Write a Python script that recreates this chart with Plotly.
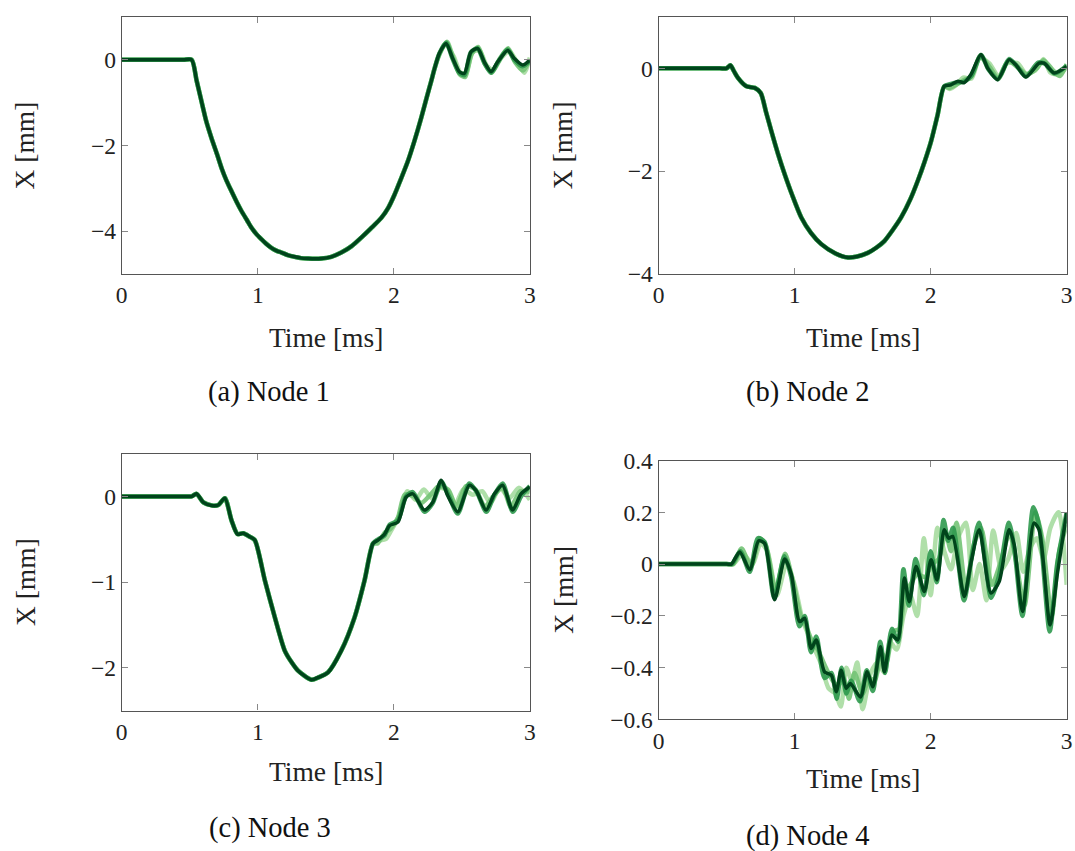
import plotly.graph_objects as go

# ---------------- data ----------------
TIME_TICKS = [0, 1, 2, 3]

# Node 1 : shared early part (all runs coincide)
N1_T_EARLY = [0, 0.45, 0.514, 0.55, 0.587, 0.62, 0.66, 0.7, 0.734, 0.77, 0.807, 0.845, 0.88, 0.92, 0.954,
              0.99, 1.027, 1.06, 1.1, 1.14, 1.174, 1.22, 1.271, 1.32, 1.37, 1.42, 1.467, 1.54, 1.614, 1.69,
              1.761, 1.83, 1.908, 1.96, 2.005, 2.05, 2.103, 2.15, 2.201, 2.24, 2.274, 2.3]
N1_Y_EARLY = [0, 0, 0, -0.48, -0.98, -1.42, -1.83, -2.2, -2.53, -2.82, -3.07, -3.32, -3.53, -3.74, -3.92,
              -4.07, -4.19, -4.29, -4.39, -4.46, -4.5, -4.56, -4.6, -4.63, -4.64, -4.645, -4.64, -4.6, -4.5,
              -4.35, -4.15, -3.94, -3.69, -3.45, -3.15, -2.8, -2.37, -1.91, -1.36, -0.9, -0.51, -0.2]
N1_T_LATE = {
    "r1": [2.33, 2.38, 2.44, 2.49, 2.53, 2.58, 2.63, 2.68, 2.73, 2.79, 2.85, 2.9, 2.96, 3.0],
    "r2": [2.34, 2.39, 2.435, 2.485, 2.525, 2.57, 2.62, 2.67, 2.72, 2.77, 2.84, 2.89, 2.95, 3.0],
    "r3": [2.335, 2.385, 2.43, 2.48, 2.52, 2.565, 2.615, 2.665, 2.715, 2.765, 2.835, 2.885, 2.945, 3.0],
    "r4": [2.335, 2.384, 2.433, 2.482, 2.518, 2.568, 2.617, 2.665, 2.715, 2.763, 2.837, 2.886, 2.947, 3.0],
}
N1_Y_LATE = {
    "r1": [0.1, 0.35, 0.08, -0.3, -0.3, 0.18, 0.22, -0.12, -0.25, 0.05, 0.2, -0.02, -0.3, 0.05],
    "r2": [0.16, 0.42, 0.06, -0.34, -0.4, 0.12, 0.3, -0.1, -0.3, -0.02, 0.27, -0.05, -0.25, 0.0],
    "r3": [0.15, 0.4, 0.04, -0.3, -0.36, 0.17, 0.27, -0.07, -0.3, -0.06, 0.24, 0.0, -0.15, -0.03],
    "r4": [0.15, 0.38, 0.03, -0.28, -0.32, 0.19, 0.26, -0.05, -0.28, -0.05, 0.22, 0.03, -0.12, -0.01],
}

# Node 2
N2_T_EARLY = [0, 0.45, 0.499, 0.528, 0.555, 0.585, 0.646, 0.707, 0.751, 0.79, 0.829, 0.88, 0.927, 0.98,
              1.049, 1.12, 1.196, 1.3, 1.392, 1.46, 1.538, 1.6, 1.66, 1.72, 1.783, 1.85, 1.905, 1.955,
              2.003, 2.05, 2.1]
N2_Y_EARLY = [0, 0, 0, 0.06, -0.06, -0.19, -0.35, -0.38, -0.48, -0.85, -1.22, -1.68, -2.06, -2.45,
              -2.9, -3.2, -3.42, -3.6, -3.68, -3.66, -3.59, -3.49, -3.36, -3.15, -2.9, -2.55, -2.19, -1.82,
              -1.42, -0.92, -0.35]
N2_T_LATE = {
    "r1": [2.14, 2.19, 2.24, 2.3, 2.36, 2.43, 2.5, 2.56, 2.64, 2.7, 2.77, 2.83, 2.88, 2.94, 3.0],
    "r2": [2.14, 2.2, 2.25, 2.3, 2.365, 2.43, 2.5, 2.57, 2.64, 2.71, 2.78, 2.83, 2.9, 2.95, 3.0],
    "r3": [2.15, 2.2, 2.245, 2.3, 2.37, 2.425, 2.495, 2.575, 2.63, 2.7, 2.79, 2.84, 2.91, 3.0],
    "r4": [2.149, 2.2, 2.245, 2.296, 2.37, 2.42, 2.492, 2.577, 2.626, 2.7, 2.797, 2.834, 2.908, 3.0],
}
N2_Y_LATE = {
    "r1": [-0.4, -0.32, -0.18, -0.2, 0.2, 0.1, -0.16, 0.1, 0.1, -0.1, -0.04, 0.18, -0.08, -0.12, 0.02],
    "r2": [-0.38, -0.3, -0.22, -0.16, 0.24, 0.04, -0.2, 0.14, 0.02, -0.12, 0.0, 0.16, -0.04, -0.15, 0.08],
    "r3": [-0.3, -0.27, -0.26, -0.14, 0.26, -0.02, -0.21, 0.18, 0.06, -0.16, 0.11, 0.09, -0.1, 0.05],
    "r4": [-0.32, -0.25, -0.28, -0.12, 0.27, 0.0, -0.22, 0.17, 0.07, -0.17, 0.1, 0.1, -0.09, 0.04],
}

# Node 3
N3_T_EARLY = [0, 0.47, 0.514, 0.55, 0.6, 0.66, 0.71, 0.758, 0.807, 0.851, 0.893, 0.94, 0.978, 1.052,
              1.125, 1.198, 1.25, 1.296, 1.394, 1.45, 1.516, 1.614, 1.712, 1.785, 1.847]
N3_Y_EARLY = [0, 0, 0, 0.03, -0.07, -0.105, -0.1, -0.02, -0.28, -0.44, -0.43, -0.47, -0.51, -0.98,
              -1.41, -1.8, -1.94, -2.035, -2.14, -2.11, -2.055, -1.8, -1.41, -0.98, -0.55]
N3_T_LATE = {
    "r1": [1.88, 1.94, 1.98, 2.04, 2.1, 2.16, 2.22, 2.28, 2.34, 2.4, 2.45, 2.51, 2.58, 2.65, 2.71, 2.78,
           2.85, 2.92, 3.0],
    "r2": [1.88, 1.935, 1.975, 2.03, 2.08, 2.15, 2.2, 2.27, 2.33, 2.4, 2.46, 2.53, 2.6, 2.67, 2.73, 2.8,
           2.86, 2.93, 3.0],
    "r3": [1.885, 1.93, 1.97, 2.03, 2.09, 2.14, 2.225, 2.285, 2.35, 2.4, 2.47, 2.555, 2.61, 2.68, 2.74,
           2.8, 2.875, 2.935, 3.0],
    "r4": [1.883, 1.932, 1.969, 2.03, 2.09, 2.14, 2.225, 2.286, 2.348, 2.396, 2.47, 2.555, 2.604, 2.678,
           2.74, 2.8, 2.873, 2.935, 3.0],
}
N3_Y_LATE = {
    "r1": [-0.52, -0.5, -0.4, -0.22, 0.06, -0.04, 0.08, -0.02, 0.1, 0.06, -0.1, 0.08, 0.02, 0.06, -0.08,
           0.1, -0.02, 0.1, -0.04],
    "r2": [-0.55, -0.42, -0.38, -0.25, 0.02, 0.0, -0.08, 0.02, 0.12, 0.08, -0.12, 0.12, 0.08, -0.12, 0.0,
           0.1, -0.12, 0.06, 0.05],
    "r3": [-0.5, -0.46, -0.33, -0.28, 0.0, 0.05, -0.18, -0.08, 0.17, 0.02, -0.2, 0.15, 0.05, -0.18, 0.02,
           0.15, -0.18, 0.0, 0.12],
    "r4": [-0.51, -0.44, -0.34, -0.3, -0.01, 0.03, -0.16, -0.07, 0.19, 0.01, -0.18, 0.13, 0.07, -0.16,
           0.03, 0.13, -0.16, 0.03, 0.11],
}

# Node 4 (runs differ throughout)
N4_T = {
    "r1": [0, 0.5, 0.55, 0.62, 0.69, 0.75, 0.8, 0.87, 0.94, 1.0, 1.06, 1.1, 1.14, 1.19, 1.25, 1.3, 1.34,
           1.38, 1.42, 1.46, 1.5, 1.56, 1.61, 1.66, 1.7, 1.75, 1.8, 1.85, 1.9, 1.95, 2.0, 2.05, 2.1, 2.15,
           2.2, 2.26, 2.31, 2.36, 2.41, 2.46, 2.52, 2.57, 2.63, 2.68, 2.73, 2.78, 2.83, 2.88, 2.94, 3.0],
    "r2": [0, 0.5, 0.55, 0.61, 0.68, 0.745, 0.79, 0.86, 0.93, 0.985, 1.045, 1.085, 1.13, 1.17, 1.23, 1.28,
           1.32, 1.36, 1.4, 1.44, 1.5, 1.55, 1.59, 1.64, 1.675, 1.725, 1.77, 1.815, 1.85, 1.9, 1.96, 2.01,
           2.06, 2.11, 2.15, 2.19, 2.26, 2.31, 2.37, 2.45, 2.51, 2.58, 2.625, 2.69, 2.77, 2.82, 2.89, 2.945,
           3.0],
    "r3": [0, 0.5, 0.54, 0.6, 0.67, 0.73, 0.78, 0.85, 0.925, 0.975, 1.035, 1.075, 1.12, 1.16, 1.22, 1.27,
           1.31, 1.345, 1.38, 1.415, 1.48, 1.53, 1.575, 1.63, 1.665, 1.715, 1.76, 1.8, 1.84, 1.89, 1.95,
           2.0, 2.045, 2.095, 2.13, 2.165, 2.245, 2.3, 2.355, 2.445, 2.5, 2.575, 2.615, 2.675, 2.755, 2.8,
           2.875, 2.93, 3.0],
    "r4": [0, 0.5, 0.535, 0.597, 0.67, 0.736, 0.78, 0.853, 0.927, 0.976, 1.037, 1.074, 1.122, 1.159, 1.22,
           1.27, 1.306, 1.342, 1.379, 1.41, 1.484, 1.533, 1.575, 1.631, 1.66, 1.714, 1.758, 1.807, 1.843,
           1.893, 1.954, 2.003, 2.047, 2.1, 2.132, 2.162, 2.247, 2.296, 2.357, 2.443, 2.504, 2.577, 2.614,
           2.675, 2.76, 2.797, 2.878, 2.932, 3.0],
}
N4_Y = {
    "r1": [0, 0, 0, 0.04, 0.0, 0.08, 0.05, -0.12, 0.0, -0.08, -0.22, -0.27, -0.32, -0.38, -0.48, -0.5,
           -0.55, -0.4, -0.45, -0.38, -0.56, -0.42, -0.38, -0.42, -0.3, -0.33, -0.2, -0.12, -0.2, 0.1,
           -0.12, 0.14, 0.05, -0.02, 0.1, 0.16, -0.1, 0.0, -0.14, 0.13, -0.02, 0.02, 0.12, -0.03, 0.06,
           0.1, 0.02, 0.14, 0.2, -0.08],
    "r2": [0, 0, 0, 0.06, -0.01, 0.1, 0.07, -0.1, 0.04, -0.06, -0.2, -0.24, -0.3, -0.33, -0.4, -0.45,
           -0.47, -0.44, -0.52, -0.42, -0.5, -0.44, -0.45, -0.34, -0.38, -0.26, -0.25, -0.1, -0.08, -0.04,
           -0.05, 0.0, 0.02, 0.12, 0.05, 0.16, -0.1, 0.06, 0.14, -0.08, 0.0, 0.12, 0.02, -0.16, 0.2, 0.1,
           -0.2, 0.05, 0.15],
    "r3": [0, 0, 0, 0.05, -0.03, 0.1, 0.085, -0.13, 0.03, -0.05, -0.24, -0.2, -0.34, -0.28, -0.44, -0.42,
           -0.52, -0.4, -0.5, -0.45, -0.53, -0.41, -0.49, -0.3, -0.42, -0.25, -0.3, -0.02, -0.16, 0.02,
           -0.12, 0.05, -0.07, 0.17, 0.09, 0.14, -0.14, 0.02, 0.16, -0.13, -0.05, 0.16, 0.06, -0.2, 0.22,
           0.14, -0.26, 0.0, 0.2],
    "r4": [0, 0, 0, 0.047, -0.022, 0.09, 0.08, -0.138, 0.02, -0.04, -0.222, -0.209, -0.326, -0.293,
           -0.416, -0.429, -0.493, -0.41, -0.48, -0.461, -0.513, -0.416, -0.474, -0.319, -0.416, -0.274,
           -0.293, -0.054, -0.145, -0.009, -0.106, 0.017, -0.061, 0.133, 0.1, 0.107, -0.125, 0.004, 0.133,
           -0.112, -0.067, 0.133, 0.075, -0.183, 0.159, 0.133, -0.235, -0.035, 0.198],
}

RUNS = ["r1", "r2", "r3", "r4"]
RUN_COLORS = {"r1": "#a8dca0", "r2": "#74c476", "r3": "#2e9a4e", "r4": "#00441b"}
RUN_WIDTHS = {"r1": 4.5, "r2": 4.5, "r3": 4.5, "r4": 3.5}

Y_RANGES = [[-5, 1], [-4, 1], [-2.5, 0.5], [-0.6, 0.4]]
Y_DTICKS = [2, 2, 1, 0.2]
CAPTIONS = ["(a) Node 1", "(b) Node 2", "(c) Node 3", "(d) Node 4"]
X_TITLE = "Time [ms]"
Y_TITLE = "X [mm]"

# ---------------- layout geometry ----------------
W, H = 1075, 851
# measured mapping page-pixel -> photographed pixel (out = S * page + O)
SX, OX = 0.991, 3.0
SY, OY = 0.977, 9.0

PANELS = [  # target left, right, top, bottom (pixels in the picture)
    (119, 528, 13, 272),
    (657, 1066, 13, 272),
    (119, 528, 453, 712),
    (657, 1066, 460, 721),
]
XTITLE_Y = [336, 336, 773, 780]
CAPTION_POS = [(267, 391), (806, 391), (268, 830), (806, 838)]
YTITLE_X = [22, 561, 22, 561]

FONT = "Liberation Serif"
TICK_SIZE = 23.5
LABEL_SIZE = 27.5
CAPTION_SIZE = 28.5


def px(x):
    return ((x - OX) / SX) / W


def py(y):
    return 1 - ((y - OY) / SY) / H


fig = go.Figure()

panel_data = []
for te, ye, tl, yl in [(N1_T_EARLY, N1_Y_EARLY, N1_T_LATE, N1_Y_LATE),
                       (N2_T_EARLY, N2_Y_EARLY, N2_T_LATE, N2_Y_LATE),
                       (N3_T_EARLY, N3_Y_EARLY, N3_T_LATE, N3_Y_LATE)]:
    panel_data.append({k: (te + tl[k], ye + yl[k]) for k in RUNS})
panel_data.append({k: (N4_T[k], N4_Y[k]) for k in RUNS})

annotations = []
for i, (l, r, t, b) in enumerate(PANELS):
    n = i + 1
    xa = "x" if n == 1 else f"x{n}"
    ya = "y" if n == 1 else f"y{n}"
    for k in RUNS:
        xs, ys = panel_data[i][k]
        fig.add_trace(go.Scatter(
            x=xs, y=ys, mode="lines", xaxis=xa, yaxis=ya, showlegend=False, hoverinfo="skip",
            line=dict(color=RUN_COLORS[k], width=RUN_WIDTHS[k], shape="spline", smoothing=0.7),
            opacity=0.9 if k != "r4" else 1.0,
        ))
    axis_common = dict(
        showline=True, linecolor="#555555", linewidth=1.2, mirror="allticks",
        ticks="inside", ticklen=6, tickwidth=1, tickcolor="#888888",
        showgrid=False, zeroline=False,
        tickfont=dict(family=FONT, size=TICK_SIZE, color="#222222"),
    )
    fig.layout[f"xaxis{'' if n == 1 else n}"] = dict(
        domain=[px(l), px(r)], anchor=ya, range=[0, 3], tickvals=TIME_TICKS, **axis_common)
    fig.layout[f"yaxis{'' if n == 1 else n}"] = dict(
        domain=[py(b), py(t)], anchor=xa, range=Y_RANGES[i], dtick=Y_DTICKS[i], tick0=0, **axis_common)

    annotations.append(dict(text=X_TITLE, x=px((l + r) / 2), y=py(XTITLE_Y[i]), xref="paper", yref="paper",
                            showarrow=False, xanchor="center", yanchor="middle",
                            font=dict(family=FONT, size=LABEL_SIZE, color="#222222")))
    annotations.append(dict(text=Y_TITLE, x=px(YTITLE_X[i]), y=py((t + b) / 2), xref="paper", yref="paper",
                            showarrow=False, xanchor="center", yanchor="middle", textangle=-90,
                            font=dict(family=FONT, size=LABEL_SIZE, color="#222222")))
    cx, cy = CAPTION_POS[i]
    annotations.append(dict(text=CAPTIONS[i], x=px(cx), y=py(cy), xref="paper", yref="paper",
                            showarrow=False, xanchor="center", yanchor="middle",
                            font=dict(family=FONT, size=CAPTION_SIZE, color="#111111")))

fig.update_layout(
    width=W, height=H, margin=dict(l=0, r=0, t=0, b=0),
    paper_bgcolor="white", plot_bgcolor="white",
    annotations=annotations, showlegend=False,
)

fig.write_html("out.html", config={"displayModeBar": False},
               post_script="document.body.style.margin='0';")
